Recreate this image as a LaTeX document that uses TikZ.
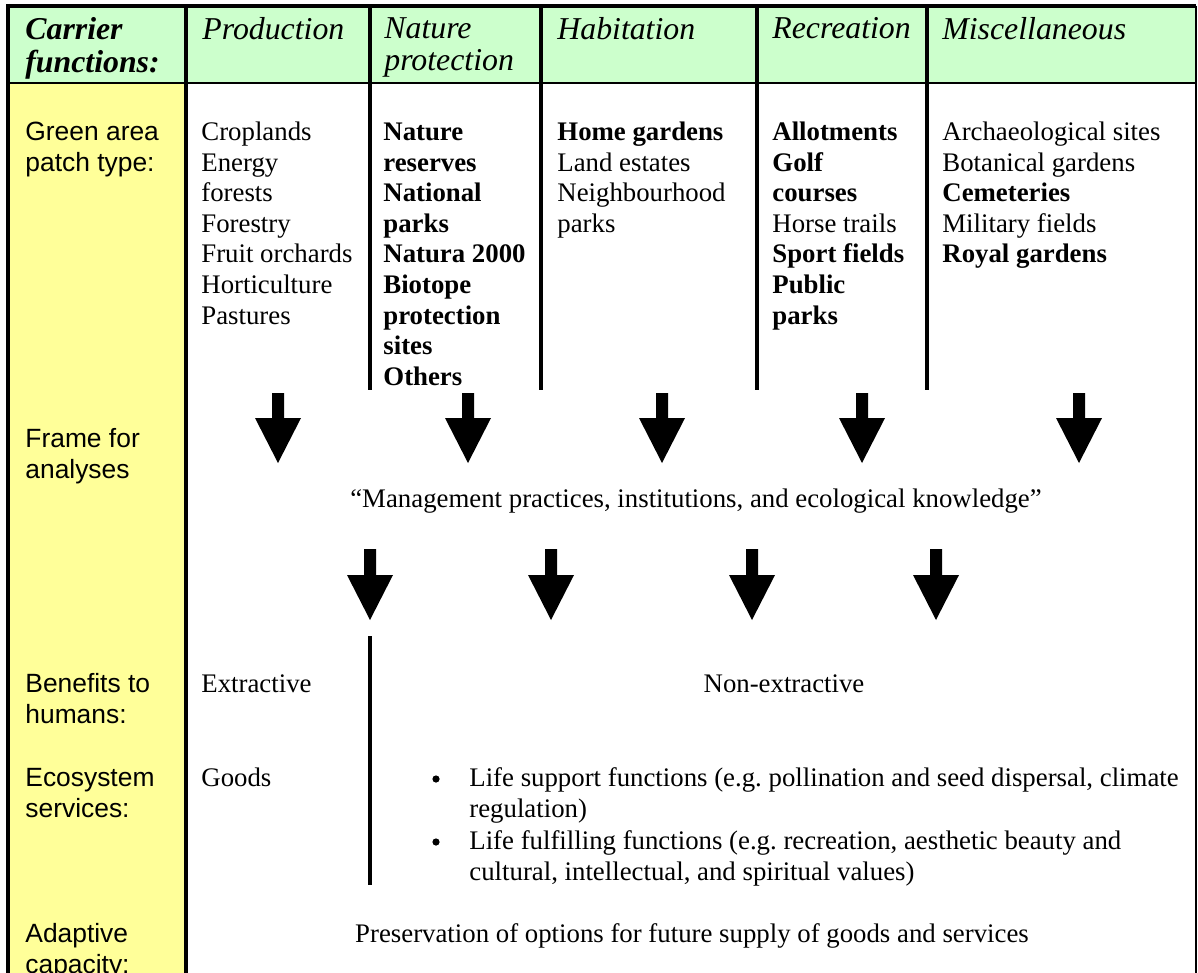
\documentclass[tikz,border=0pt]{standalone}
\usepackage{fontspec}
\setmainfont{Liberation Serif}
\setsansfont{Liberation Sans}
\usetikzlibrary{positioning}
\definecolor{hdrgreen}{HTML}{CCFFCC}
\definecolor{lblyellow}{HTML}{FFFF99}
\newcommand\bodysize{\fontsize{13.4}{15.3}\selectfont}
\newcommand\labelsize{\fontsize{13.2}{15.3}\selectfont}
\newcommand\headsize{\fontsize{15.9}{15}\selectfont}

\begin{document}
\begin{tikzpicture}[
  x=0.5pt,y=-0.5pt,
  cell/.style={anchor=north west,inner sep=0pt,align=left,font=\bodysize},
  rowname/.style={cell,font=\sffamily\labelsize},
  head/.style={cell,font=\headsize\itshape},
  plain/.style={anchor=base,inner sep=0pt,font=\bodysize},
  dot/.style={circle,fill,inner sep=0pt,minimum size=3.6pt},
  heavyrule/.style={line width=2.4pt},
  colrule/.style={line width=2.1pt},
  thinrule/.style={line width=1.2pt}
]
\useasboundingbox (0,0) rectangle (1198,973);

% fills
\fill[hdrgreen] (8,6) rectangle (1196,83);
\fill[lblyellow] (8,83) rectangle (186,980);

% frame and column rules
\draw[heavyrule] (6,6) -- (1196,6);
\draw[heavyrule] (8,4) -- (8,980);
\draw[heavyrule] (186,6) -- (186,980);
\draw[thinrule] (8,83) -- (1196,83);
\draw[line width=0.8pt] (1196,6) -- (1196,980);
\foreach \cx in {370,541,757,927}
  \draw[colrule] (\cx,6) -- (\cx,390);

% header row
\node[head,font=\headsize\bfseries\itshape] (hcarrier) at (25,17) {\strut Carrier\\functions:};
\node[head] (hprod) at (202,17) {\strut Production};
\node[head] (hnat) at (384,17) {\strut Nature\\protection};
\node[head] (hhab) at (557,17) {\strut Habitation};
\node[head] (hrec) at (772,17) {\strut Recreation};
\node[head] (hmisc) at (942,17) {\strut Miscellaneous};

% patch types
\node[rowname] (patch) at (25,118.6) {\strut Green area\\patch type:};
\node[cell] (prod) at (201,118.6) {\strut Croplands\\Energy\\forests\\Forestry\\Fruit orchards\\Horticulture\\Pastures};
\node[cell,font=\bodysize\bfseries] (nat) at (383,118.6) {\strut Nature\\reserves\\National\\parks\\Natura 2000\\Biotope\\protection\\sites\\Others};
\node[cell] (hab) at (557,118.6) {\strut\textbf{Home gardens}\\Land estates\\Neighbourhood\\parks};
\node[cell] (rec) at (772,118.6) {\strut\textbf{Allotments}\\\textbf{Golf}\\\textbf{courses}\\Horse trails\\\textbf{Sport fields}\\\textbf{Public}\\\textbf{parks}};
\node[cell] (misc) at (942,118.6) {\strut Archaeological sites\\Botanical gardens\\\textbf{Cemeteries}\\Military fields\\\textbf{Royal gardens}};

% block arrows
\foreach \ax in {278,468,662,862,1079}
  \fill (\ax-6,393) -- (\ax+6,393) -- (\ax+6,418) -- (\ax+23,418) -- (\ax,463)
    -- (\ax-23,418) -- (\ax-6,418) -- cycle;
\foreach \ax in {370,551,752,936}
  \fill (\ax-6,549) -- (\ax+6,549) -- (\ax+6,575) -- (\ax+23,575) -- (\ax,620)
    -- (\ax-23,575) -- (\ax-6,575) -- cycle;

\node[rowname] (frame) at (25,425.6) {\strut Frame for\\analyses};
\node[plain] (mgmt) at (696,507) {“Management practices, institutions, and ecological knowledge”};

% benefits and services
\draw[colrule] (370,636) -- (370,885);
\node[rowname] (benefit) at (25,670.6) {\strut Benefits to\\humans:};
\node[cell] (extract) at (201,670.6) {\strut Extractive};
\node[plain] (nonext) at (784,692) {Non-extractive};

\node[rowname] (ecosys) at (25,764.6) {\strut Ecosystem\\services:};
\node[cell] (goods) at (201,764.6) {\strut Goods};
\node[dot] (dot1) at (436,779) {};
\node[cell] (support) at (469,764.6) {\strut Life support functions (e.g.\ pollination and seed dispersal, climate\\regulation)};
\node[dot] (dot2) at (436,842) {};
\node[cell] (fulfil) at (469,827.6) {\strut Life fulfilling functions (e.g.\ recreation, aesthetic beauty and\\cultural, intellectual, and spiritual values)};

\node[rowname] (adapt) at (25,920.6) {\strut Adaptive\\capacity:};
\node[plain] (preserve) at (692,942) {Preservation of options for future supply of goods and services};
\end{tikzpicture}
\end{document}
